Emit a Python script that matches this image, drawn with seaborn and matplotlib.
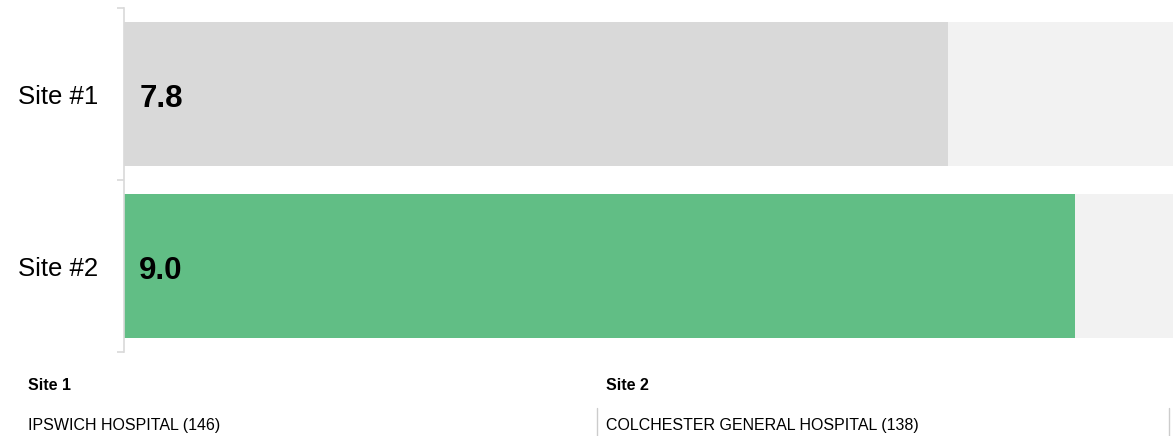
import matplotlib
matplotlib.use('Agg')
import matplotlib.pyplot as plt
from matplotlib.lines import Line2D
import pandas as pd
import seaborn as sns

sites = ['Site #1', 'Site #2']
scores = [7.8, 9.0]
score_max = [10, 10]
bar_colors = ['#d9d9d9', '#61be85']
footer_titles = ['Site 1', 'Site 2']
footer_names = ['IPSWICH HOSPITAL (146)', 'COLCHESTER GENERAL HOSPITAL (138)']

df = pd.DataFrame({'site': sites, 'score': scores, 'max': score_max})

sns.set_style('white')
plt.rcParams['font.family'] = ['Liberation Sans', 'DejaVu Sans']
plt.rcParams['text.color'] = 'black'
plt.rcParams['ytick.labelcolor'] = 'black'

fig = plt.figure(figsize=(11.73, 4.36), dpi=100)
ax = fig.add_axes([123.5 / 1173, 1 - 352 / 436, 1 - 123.5 / 1173, (352 - 8) / 436])

sns.barplot(data=df, x='max', y='site', orient='h', color='#f2f2f2',
            width=0.84, ax=ax, saturation=1, linewidth=0)
sns.barplot(data=df, x='score', y='site', orient='h', hue='site',
            palette=bar_colors, legend=False, width=0.84, ax=ax,
            saturation=1, linewidth=0)

ax.set_xlim(0, 9.93)
ax.set_ylim(1.5, -0.5)
ax.set_xlabel('')
ax.set_ylabel('')
ax.set_xticks([])

ax.set_yticks([-0.5, 0.5, 1.5])
ax.set_yticklabels([])
ax.set_yticks([0, 1], minor=True)
ax.set_yticklabels(sites, minor=True, fontsize=18.5, color='black')
ax.tick_params(axis='y', which='major', length=5, width=1.2, color='#d9d9d9', left=True)
ax.tick_params(axis='y', which='minor', length=0, pad=18)

for side in ['top', 'right', 'bottom']:
    ax.spines[side].set_visible(False)
ax.spines['left'].set_color('#d9d9d9')
ax.spines['left'].set_linewidth(1.2)

for i, v in enumerate(scores):
    ax.text(0.15, i + 0.03, f'{v:.1f}', va='center', ha='left',
            fontsize=22.5, fontweight='bold', color='black')

# footer with the site names
col_x = [28, 606]
for x, title, name in zip(col_x, footer_titles, footer_names):
    fig.text(x / 1173, 1 - 385 / 436, title, fontsize=11.5, fontweight='bold',
             va='center', ha='left', color='black')
    fig.text(x / 1173, 1 - 425 / 436, name, fontsize=11.5,
             va='center', ha='left', color='black')

for x in [597, 1169]:
    fig.add_artist(Line2D([x / 1173, x / 1173], [1 - 408 / 436, 0],
                          color='#cccccc', lw=1))

fig.savefig('out.png', dpi=100)
